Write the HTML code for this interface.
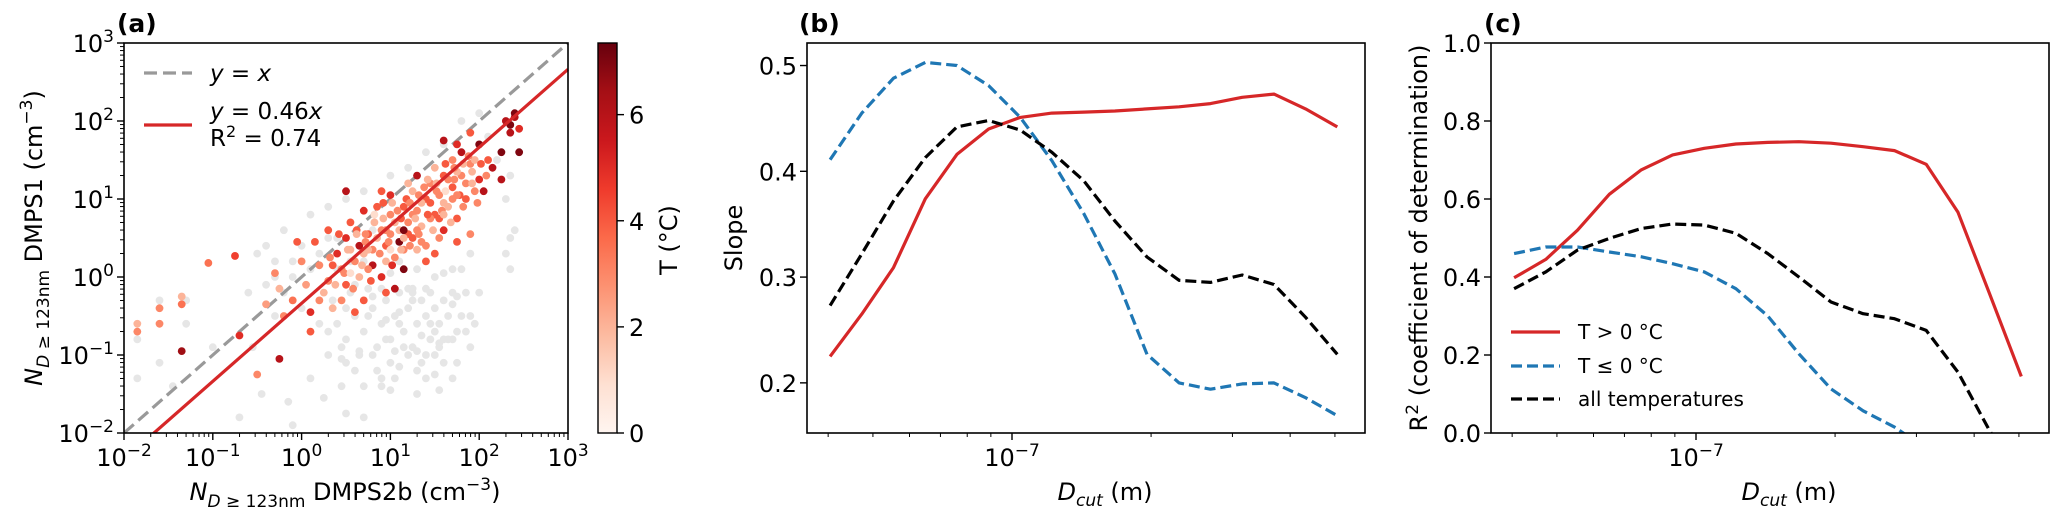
<!DOCTYPE html>
<html><head><meta charset="utf-8"><style>
html,body{margin:0;padding:0;background:#fff;}
svg{display:block;font-family:"DejaVu Sans","Liberation Sans",sans-serif;}
</style></head><body>
<svg id="fig" width="2067" height="524" viewBox="0 0 2067 524" xmlns="http://www.w3.org/2000/svg">
<defs>
<clipPath id="clipA"><rect x="124" y="43" width="445" height="390"/></clipPath>
<clipPath id="clipB"><rect x="807" y="43" width="558" height="390"/></clipPath>
<clipPath id="clipC"><rect x="1491" y="43" width="558" height="390"/></clipPath>
<linearGradient id="redsGrad" x1="0" y1="1" x2="0" y2="0">
<stop offset="0" stop-color="#fff5f0"/><stop offset="0.125" stop-color="#fee0d2"/><stop offset="0.25" stop-color="#fcbba1"/><stop offset="0.375" stop-color="#fc9272"/><stop offset="0.5" stop-color="#fb6a4a"/><stop offset="0.625" stop-color="#ef3b2c"/><stop offset="0.75" stop-color="#cb181d"/><stop offset="0.875" stop-color="#a50f15"/><stop offset="1" stop-color="#67000d"/>
</linearGradient>
</defs>
<g id="layer"></g>
</svg>
<script>
// ---------- data ----------
const grayX = [-1.85,-1.85,-1.6,-1.6,-1.45,-1.3,-1.3,-1.0,-0.7,-0.55,-0.45,-0.3,-0.2,-0.15,-0.1,0.1,0.25,0.45,0.5,0.7,0.9,1.0,1.1,1.3,1.4,1.5,1.6,1.7,1.9,1.95,
0.6,0.7,0.8,0.85,0.9,0.95,1.0,1.05,1.1,1.15,1.2,1.25,1.3,1.35,1.4,1.45,1.5,1.55,1.6,1.65,1.7,1.75,1.8,1.2,1.0,0.8,0.6,0.5,0.4,0.3,1.5,1.7,1.3,1.1,0.9,1.85,1.6,1.4,
-0.5,-0.4,-0.3,-0.2,-0.1,0.0,0.1,0.2,0.3,0.4,0.5,0.55,0.7,0.8,1.0,1.2,1.4,1.6,1.8,2.0,2.1,2.2,2.3,2.35,2.3,2.35,2.4,2.35,1.9,2.0,
0.75,1.05,1.35,1.55,1.25,0.65,0.45,1.75,1.45,0.95,
0.35,0.45,0.55,0.65,0.75,0.85,0.95,1.05,1.15,1.25,1.35,1.45,1.55,1.65,1.75,1.85,0.5,0.7,0.9,1.1,1.3,1.5,1.7,1.9,0.4,0.6,0.8,1.0,1.2,1.4,1.6,1.8,0.3,0.5,0.7,0.9,1.1,1.3,1.5,1.7,-0.3,-0.1,0.1,0.3,-0.6,-0.4,0.0,0.2,1.25,1.55];
const grayY = [-0.8,-1.3,-0.3,-1.1,-1.4,-0.3,-0.6,-0.9,-1.8,-0.9,-1.5,-0.5,-0.2,-1.6,-1.9,-1.3,-1.55,-1.4,-1.75,-1.8,-1.3,-1.45,-1.15,-1.5,-1.3,-1.0,-1.1,-0.8,-0.9,-0.6,
-0.5,-0.7,-0.4,-0.9,-0.6,-0.3,-0.8,-0.5,-0.2,-0.7,-0.4,-0.9,-0.6,-0.3,-0.5,-0.8,-0.4,-0.6,-0.3,-0.5,-0.35,-0.7,-0.5,-1.0,-1.1,-1.0,-1.2,-0.8,-0.6,-1.0,0.0,0.1,0.1,0.2,0.0,-0.2,-0.8,-1.0,
0.3,-0.1,0.2,0.6,0.0,0.4,0.8,0.3,0.9,0.5,1.0,0.2,1.1,0.6,1.3,1.4,1.6,1.7,2.0,2.1,1.8,1.5,1.0,0.5,0.3,0.1,0.6,1.3,0.3,-0.2,
-0.15,-0.95,-0.75,-0.85,-0.2,-0.95,-1.05,-0.25,-0.6,-0.55,
-0.3,-0.9,-0.2,-1.0,-0.5,-1.2,-0.8,-1.3,-0.9,-0.3,-1.1,-0.2,-0.9,-0.8,-1.1,-0.7,-0.4,-1.4,-0.15,-0.6,-0.95,-0.7,-0.2,-0.5,0.1,-0.1,-0.25,0.05,-0.15,-0.15,0.05,0.1,-0.7,-1.1,0.2,-1.4,-0.45,-1.2,-1.25,-1.3,0.0,0.2,0.1,0.5,-0.2,0.4,-0.4,-0.6,-0.15,-1.45];
const colX = [-1.85,-1.85,-1.6,-1.6,-1.35,-1.35,-1.35,-1.05,-0.75,-0.7,-0.5,-0.4,-0.3,-0.25,-0.2,-0.25,-0.1,-0.05,0.0,0.05,0.1,0.1,0.15,0.2,0.25,0.3,0.3,0.35,0.4,0.45,0.5,0.5,0.55,0.6,0.65,0.65,0.7,0.75,0.8,0.8,0.85,0.9,0.9,0.95,1.0,1.0,1.05,1.1,1.1,1.15,1.15,1.2,1.25,1.25,1.3,1.3,1.35,1.4,1.4,1.45,1.5,1.5,1.55,1.6,1.6,1.65,1.7,1.7,1.75,1.8,1.8,1.85,1.9,1.9,2.0,2.0,2.05,2.1,2.15,2.25,2.25,2.35,2.4,2.4,2.3,2.45,2.45,2.35,
0.7,0.75,0.85,0.95,1.0,1.05,1.15,1.2,1.3,1.35,1.45,1.55,1.6,1.7,1.75,1.85,1.95,1.95,1.65,1.45,1.25,0.55,0.45,0.35,0.2,1.05,1.15,0.7,0.6,0.95,1.5,1.75,1.4,0.5,0.9,1.2,1.6,1.75,1.9,
0.32,0.38,0.42,0.48,0.52,0.58,0.62,0.68,0.72,0.78,0.82,0.88,0.92,0.98,1.02,1.08,1.12,1.18,1.22,1.28,1.32,1.38,1.42,1.48,1.52,1.58,1.62,1.68,1.72,1.78,1.82,1.88,1.92,1.98,2.02,2.08,0.62,0.82,1.02,1.22,1.42,1.62,1.82,0.72,0.92,1.12,1.32,1.52,1.72,1.92,0.55,0.75,0.95,1.15,1.35,1.55,1.75,1.0,1.3,1.6];
const colY = [-0.6,-0.7,-0.4,-0.6,-0.35,-0.95,-0.25,0.18,0.27,-0.75,-1.25,-0.35,0.05,-0.15,-0.5,-1.05,-0.3,0.45,0.2,-0.1,-0.7,-0.45,0.45,0.15,-0.2,0.6,-0.05,-0.4,0.3,0.1,-0.1,0.5,0.7,0.2,0.0,0.4,0.85,0.55,0.15,0.35,0.9,0.6,0.0,0.4,0.8,1.05,0.25,0.6,0.45,0.9,0.1,0.7,1.1,0.5,0.85,1.3,0.65,1.0,0.4,1.2,0.8,1.4,1.05,0.6,1.3,0.9,1.5,1.15,0.75,1.3,1.6,1.0,1.45,0.55,1.25,1.7,1.1,1.5,1.4,1.6,1.25,1.95,2.05,2.1,2.0,1.6,1.9,1.85,
0.3,0.1,0.5,0.2,0.55,0.7,0.35,0.55,0.6,0.95,0.75,0.5,0.95,1.0,1.35,1.2,1.1,1.5,1.25,0.95,0.8,0.35,-0.3,0.15,-0.3,-0.15,0.6,-0.3,-0.45,-0.2,0.3,0.45,0.2,1.1,1.1,1.2,1.75,1.7,1.85,
0.25,-0.1,0.55,0.05,0.35,-0.15,0.6,0.15,0.45,-0.05,0.7,0.3,0.95,0.45,0.15,0.85,0.35,1.0,0.4,0.75,0.55,1.15,0.8,0.6,1.1,0.85,1.45,0.7,1.25,1.05,0.9,1.55,1.2,0.95,1.45,1.3,0.55,0.8,0.95,0.95,1.25,1.1,1.45,0.55,0.75,0.75,1.05,1.2,1.4,1.35,0.05,0.35,0.6,0.5,0.45,0.75,1.05,0.35,0.35,0.8];
const colT = [2,3,3,3,3.5,6.5,2,3.5,4.5,5,3,2.5,3,2,3,6,3.5,4,3,2.5,4,5,4,3,2,4,3,2,5,3,4,5,4,3,2,6,5,4,6,3,4,3,5,4,3,5,3,2,7,4,7,3,2,4,3,6,2,4,3,3,4,2,3,5,4,2,3,4,4,3,6,4,3,3,5,7,6,4,6,7,6,7,6,7,6,7,5,6,
2,3,2,2,3,2,3,4,3,2,3,3,2,3,2,3,3,2,3,4,3,2,3,4,3,6,7,4,4,4,4,4,4,6,4,2,6,5,4,
3,2,4,3,2,3,4,2,3,4,2,3,4,3,5,3,2,4,3,2,3,3,4,2,3,3,4,2,3,4,3,3,2,3,4,3,2,1,2,3,2,1,2,3,2,4,3,2,3,2,1,2,3,2,3,4,3,1,2,2];
const cbTicks = [0,2,4,6];
const logTicks = [-2,-1,0,1,2,3];
const fitSlope = 0.46;

const dcut = [40.4,47.3,55.4,64.9,76.0,89.0,104.2,122,143,167,196,230,269,315,369,432,506]; // nm
const slopeWarm = [0.225,0.265,0.309,0.374,0.416,0.440,0.451,0.455,0.456,0.457,0.459,0.461,0.464,0.470,0.473,0.459,0.442];
const slopeCold = [0.411,0.455,0.488,0.503,0.500,0.481,0.451,0.410,0.360,0.303,0.227,0.200,0.194,0.199,0.200,0.186,0.169];
const slopeAll  = [0.273,0.322,0.372,0.413,0.442,0.448,0.439,0.418,0.391,0.353,0.319,0.297,0.295,0.302,0.293,0.262,0.227];
const r2Warm = [0.398,0.445,0.520,0.612,0.674,0.713,0.730,0.741,0.745,0.747,0.743,0.734,0.724,0.689,0.566,0.357,0.145];
const r2Cold = [0.460,0.477,0.477,0.464,0.452,0.434,0.413,0.370,0.300,0.203,0.113,0.057,0.015,-0.040,-0.100,-0.160,-0.220];
const r2All  = [0.370,0.413,0.469,0.499,0.524,0.536,0.533,0.512,0.460,0.400,0.336,0.306,0.293,0.263,0.156,0.006,-0.120];
const slopeTicks = [0.2,0.3,0.4,0.5];
const r2Ticks = [0.0,0.2,0.4,0.6,0.8,1.0];

// ---------- helpers ----------
const NS = "http://www.w3.org/2000/svg";
const layer = document.getElementById('layer');
function mk(tag, attrs, parent){
  const e = document.createElementNS(NS, tag);
  for (const k in attrs) e.setAttribute(k, attrs[k]);
  (parent||layer).appendChild(e);
  return e;
}
const RED="#d62728", BLUE="#1f77b4";
const redsStops=[[255,245,240],[254,224,210],[252,187,161],[252,146,114],[251,106,74],[239,59,44],[203,24,29],[165,15,21],[103,0,13]];
function reds(t){
  t=Math.max(0,Math.min(1,t))*8; const i=Math.min(7,Math.floor(t)), f=t-i;
  const a=redsStops[i], b=redsStops[i+1];
  return `rgb(${Math.round(a[0]+(b[0]-a[0])*f)},${Math.round(a[1]+(b[1]-a[1])*f)},${Math.round(a[2]+(b[2]-a[2])*f)})`;
}

// ---------- panel a ----------
const A={l:124,r:568,t:43,b:433};
const ax = v => A.l + (v+2)/5*(A.r-A.l);
const ay = v => A.b - (v+2)/5*(A.b-A.t);
const gA = mk('g',{'clip-path':'url(#clipA)'});


for(let i=0;i<grayX.length;i++){
  const c=mk('circle',{cx:ax(grayX[i]),cy:ay(grayY[i]),r:3.9,fill:'#e6e6e6'},gA);
  
  
}
const l1=mk('line',{x1:ax(-2),y1:ay(-2),x2:ax(3),y2:ay(3),stroke:'#999',"stroke-width":3.2,"stroke-dasharray":"13,6"},gA);


for(let i=0;i<colX.length;i++){
  const c=mk('circle',{cx:ax(colX[i]),cy:ay(colY[i]),r:3.9,fill:reds(colT[i]/7.35)},gA);
  
  
}
const lf=Math.log10(fitSlope);
const l2=mk('line',{x1:ax(-2),y1:ay(-2+lf),x2:ax(3),y2:ay(3+lf),stroke:RED,"stroke-width":3.2},gA);


mk('rect',{x:A.l,y:A.t,width:A.r-A.l,height:A.b-A.t,fill:'none',stroke:'#000','stroke-width':1.6});
function minorLog(fn,horiz){
  for(let d=-2;d<3;d++)for(let m=2;m<10;m++){
    const v=d+Math.log10(m);
    if(horiz) mk('line',{x1:fn(v),y1:A.b,x2:fn(v),y2:A.b+4,stroke:'#000','stroke-width':1});
    else mk('line',{x1:A.l,y1:fn(v),x2:A.l-4,y2:fn(v),stroke:'#000','stroke-width':1});
  }
}
minorLog(ax,true); minorLog(ay,false);
logTicks.forEach(v=>{
  mk('line',{x1:ax(v),y1:A.b,x2:ax(v),y2:A.b+7,stroke:'#000','stroke-width':1.4});
  mk('line',{x1:A.l,y1:ay(v),x2:A.l-7,y2:ay(v),stroke:'#000','stroke-width':1.4});
  const tx=mk('text',{x:ax(v),y:466,'font-size':24,'text-anchor':'middle'});
  tx.innerHTML=`10<tspan dy="-10" font-size="17">${v<0?'−':''}${Math.abs(v)}</tspan>`;
  
  
  const ty=mk('text',{x:A.l-10,y:ay(v)+9,'font-size':24,'text-anchor':'end'});
  ty.innerHTML=`10<tspan dy="-10" font-size="17">${v<0?'−':''}${Math.abs(v)}</tspan>`;
  
  
});
mk('line',{x1:144,y1:73,x2:192,y2:73,stroke:'#999','stroke-width':3.2,'stroke-dasharray':'13,6'});
mk('text',{x:210,y:81,'font-size':23}).innerHTML='<tspan font-style="italic">y</tspan> = <tspan font-style="italic">x</tspan>';
mk('line',{x1:144,y1:125,x2:192,y2:125,stroke:RED,'stroke-width':3.2});
mk('text',{x:210,y:119,'font-size':23}).innerHTML='<tspan font-style="italic">y</tspan> = 0.46<tspan font-style="italic">x</tspan>';
mk('text',{x:210,y:146,'font-size':23}).innerHTML='R<tspan dy="-9" font-size="16">2</tspan><tspan dy="9"> = 0.74</tspan>';
const CB={l:598,r:617,t:43,b:433,max:7.35};
const cb=mk('rect',{x:CB.l,y:CB.t,width:CB.r-CB.l,height:CB.b-CB.t,fill:'url(#redsGrad)',stroke:'#000','stroke-width':1.4});


cbTicks.forEach(v=>{
  const y=CB.b-v/CB.max*(CB.b-CB.t);
  mk('line',{x1:CB.r,y1:y,x2:CB.r+7,y2:y,stroke:'#000','stroke-width':1.4});
  mk('text',{x:629,y:y+9,'font-size':24}).textContent=v;
});
const cbl=mk('text',{x:0,y:0,'font-size':24,'text-anchor':'middle',transform:'translate(677,240) rotate(-90)'});
cbl.textContent='T (°C)';


const xla=mk('text',{x:345,y:500,'font-size':24,'text-anchor':'middle'});
xla.innerHTML='<tspan font-style="italic">N</tspan><tspan dy="7" font-size="17"><tspan font-style="italic">D</tspan> ≥ 123nm</tspan><tspan dy="-7"> DMPS2b (cm</tspan><tspan dy="-10" font-size="17">−3</tspan><tspan dy="10">)</tspan>';


const yla=mk('text',{x:0,y:0,'font-size':24,'text-anchor':'middle',transform:'translate(42,238) rotate(-90)'});
yla.innerHTML='<tspan font-style="italic">N</tspan><tspan dy="7" font-size="17"><tspan font-style="italic">D</tspan> ≥ 123nm</tspan><tspan dy="-7"> DMPS1 (cm</tspan><tspan dy="-10" font-size="17">−3</tspan><tspan dy="10">)</tspan>';


mk('text',{x:117,y:32,'font-size':25,'font-weight':'bold'}).textContent='(a)';

// ---------- panels b, c ----------
function linePanel(P, ymin, ymax, ticks, series, clip, letter, ylabel){
  const px = d => P.l + 205 + Math.log10(d/100)*462;
  const py = v => P.b - (v-ymin)/(ymax-ymin)*(P.b-P.t);
  const g=mk('g',{'clip-path':`url(#${clip})`});
  series.forEach(s=>{
    const pts=dcut.map((d,i)=>`${px(d).toFixed(1)},${py(s.vals[i]).toFixed(1)}`).join(' ');
    const pl=mk('polyline',{points:pts,fill:'none',stroke:s.color,'stroke-width':3.2,'stroke-dasharray':s.dash||'none','stroke-linejoin':'round'},g);
    
    
  });
  mk('rect',{x:P.l,y:P.t,width:P.r-P.l,height:P.b-P.t,fill:'none',stroke:'#000','stroke-width':1.6});
  [40,50,60,70,80,90,200,300,400,500].forEach(d=>{
    mk('line',{x1:px(d),y1:P.b,x2:px(d),y2:P.b+4,stroke:'#000','stroke-width':1});
  });
  mk('line',{x1:px(100),y1:P.b,x2:px(100),y2:P.b+7,stroke:'#000','stroke-width':1.4});
  const xt=mk('text',{x:px(100),y:466,'font-size':24,'text-anchor':'middle'});
  xt.innerHTML='10<tspan dy="-10" font-size="17">−7</tspan>';
  
  
  ticks.forEach(v=>{
    mk('line',{x1:P.l,y1:py(v),x2:P.l-7,y2:py(v),stroke:'#000','stroke-width':1.4});
    const t=mk('text',{x:P.l-10,y:py(v)+9,'font-size':24,'text-anchor':'end'});
    t.textContent=v.toFixed(1);
    
    
  });
  const xl=mk('text',{x:P.l+298,y:500,'font-size':24,'text-anchor':'middle'});
  xl.innerHTML='<tspan font-style="italic">D<tspan dy="6" font-size="17">cut</tspan></tspan><tspan dy="-6"> (m)</tspan>';
  
  
  const yl=mk('text',{x:0,y:0,'font-size':24,'text-anchor':'middle',transform:`translate(${ylabel.x},238) rotate(-90)`});
  yl.innerHTML=ylabel.html;
  
  
  mk('text',{x:letter.x,y:32,'font-size':25,'font-weight':'bold'}).textContent=letter.t;
}
linePanel({l:807,r:1365,t:43,b:433},0.1526,0.5213,slopeTicks,[
  {vals:slopeWarm,color:RED,name:'slope-warm-line'},
  {vals:slopeCold,color:BLUE,dash:'11,5',name:'slope-cold-line'},
  {vals:slopeAll,color:'#000',dash:'11,5',name:'slope-all-line'}],
  'clipB',{x:799,t:'(b)'},{x:742,html:'Slope'});
linePanel({l:1491,r:2049,t:43,b:433},0,1,r2Ticks,[
  {vals:r2Warm,color:RED,name:'r2-warm-line'},
  {vals:r2Cold,color:BLUE,dash:'11,5',name:'r2-cold-line'},
  {vals:r2All,color:'#000',dash:'11,5',name:'r2-all-line'}],
  'clipC',{x:1484,t:'(c)'},{x:1427,html:'R<tspan dy="-9" font-size="17">2</tspan><tspan dy="9"> (coefficient of determination)</tspan>'});
const leg=[[RED,'none','T &gt; 0 °C',332],[BLUE,'11,5','T ≤ 0 °C',366],['#000','11,5','all temperatures',399]];
leg.forEach(l=>{
  const ln=mk('line',{x1:1511,y1:l[3],x2:1560,y2:l[3],stroke:l[0],'stroke-width':3.2,'stroke-dasharray':l[1]});
  
  
  const t=mk('text',{x:1578,y:l[3]+7,'font-size':20});
  t.innerHTML=l[2];
  
  
});
</script>
</body></html>
